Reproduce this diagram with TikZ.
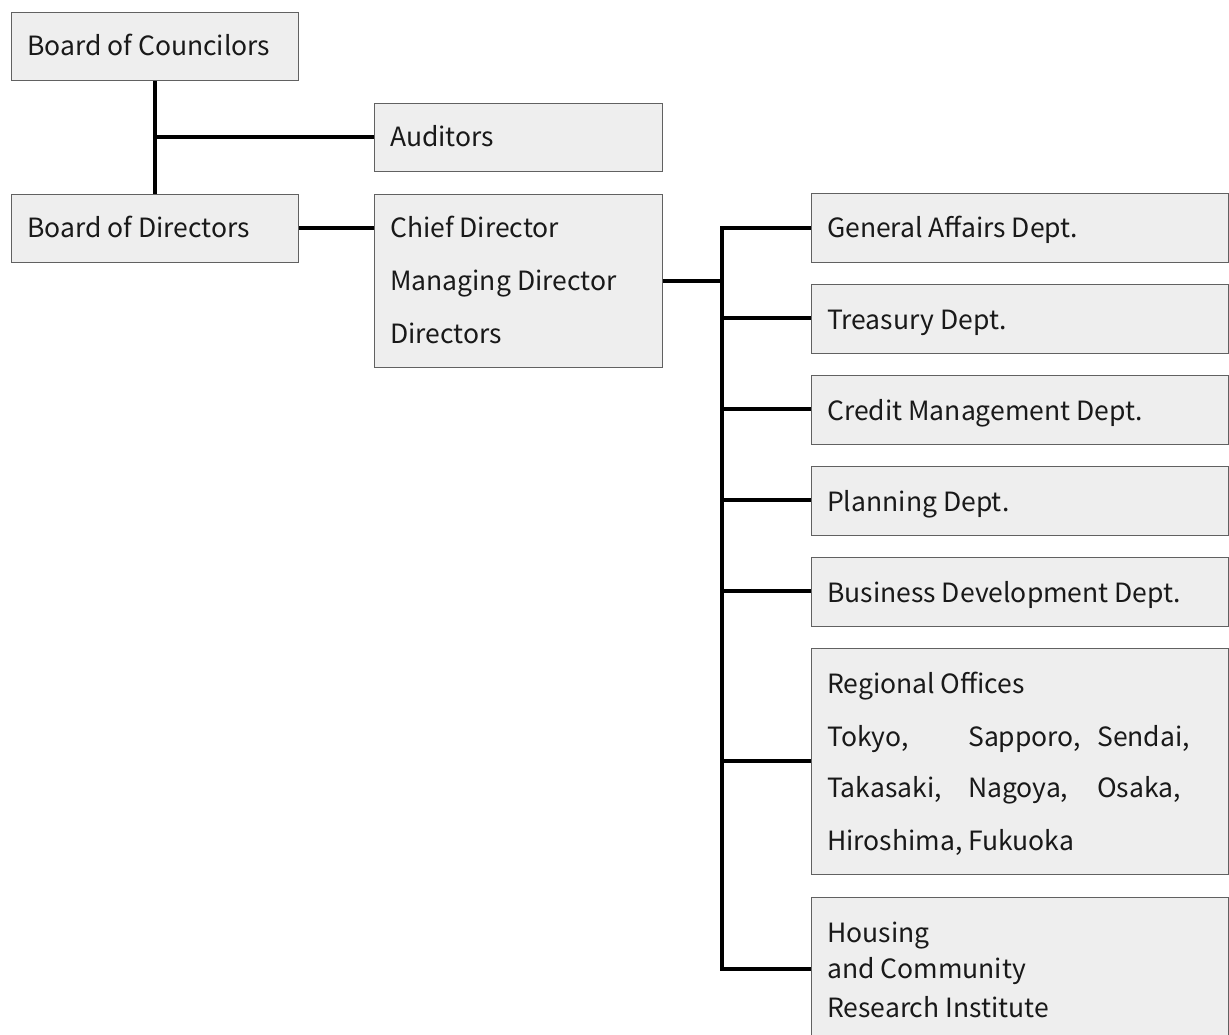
\documentclass[tikz,border=0pt]{standalone}
\usepackage{fontspec}
\setmainfont{Noto Sans CJK JP}
\tikzset{
  box/.style={draw=black!62, line width=1.1pt, fill=black!6.5, rectangle, inner sep=0pt, anchor=north west},
  lbl/.style={inner sep=0pt, anchor=base west, font=\fontsize{26.5}{30}\selectfont, text=black!90},
  conn/.style={line width=3.2pt, draw=black},
}
\begin{document}
\begin{tikzpicture}[x=1pt,y=-1pt]
\useasboundingbox (0,0) rectangle (1229,1035);
\clip (0,0) rectangle (1229,1035);
% boxes
\node[box, minimum width=287, minimum height=68] (bc) at (11,12) {};
\node[box, minimum width=287, minimum height=68] (bd) at (11,194) {};
\node[box, minimum width=288, minimum height=68] (au) at (374,103) {};
\node[box, minimum width=288, minimum height=173] (cd) at (374,194) {};
\node[box, minimum width=417, minimum height=69] (ga) at (811,193) {};
\node[box, minimum width=417, minimum height=69] (tr) at (811,284) {};
\node[box, minimum width=417, minimum height=69] (cm) at (811,375) {};
\node[box, minimum width=417, minimum height=69] (pl) at (811,466) {};
\node[box, minimum width=417, minimum height=69] (bdv) at (811,557) {};
\node[box, minimum width=417, minimum height=226] (ro) at (811,648) {};
\node[box, minimum width=417, minimum height=160] (hc) at (811,897) {};
% texts
\node[lbl] (bc-t) at (27,56) {Board of Councilors};
\node[lbl] (bd-t) at (27,238) {Board of Directors};
\node[lbl] (au-t) at (390,147) {Auditors};
\node[lbl] (cd-t1) at (390,238) {Chief Director};
\node[lbl] (cd-t2) at (390,290) {Managing Director};
\node[lbl] (cd-t3) at (390,343) {Directors};
\node[lbl] (ga-t) at (827,238) {General Affairs Dept.};
\node[lbl] (tr-t) at (827,329) {Treasury Dept.};
\node[lbl] (cm-t) at (827,420) {Credit Management Dept.};
\node[lbl] (pl-t) at (827,511) {Planning Dept.};
\node[lbl] (bdv-t) at (827,602) {Business Development Dept.};
\node[lbl] (ro-t0) at (827,693) {Regional Offices};
\node[lbl] (ro-a1) at (827,746) {Tokyo,};
\node[lbl] (ro-b1) at (968,746) {Sapporo,};
\node[lbl] (ro-c1) at (1097,746) {Sendai,};
\node[lbl] (ro-a2) at (827,797) {Takasaki,};
\node[lbl] (ro-b2) at (968,797) {Nagoya,};
\node[lbl] (ro-c2) at (1097,797) {Osaka,};
\node[lbl] (ro-a3) at (827,850) {Hiroshima,};
\node[lbl] (ro-b3) at (968,850) {Fukuoka};
\node[lbl] (hc-t1) at (827,942) {Housing};
\node[lbl] (hc-t2) at (827,978) {and Community};
\node[lbl] (hc-t3) at (827,1017) {Research Institute};
% connectors
\coordinate (j1) at (155,137);
\coordinate (bus) at (722,281);
\draw[conn] (bc.south -| j1) -- (bd.north -| j1);
\draw[conn] (j1) -- (au.west |- j1);
\draw[conn] (bd.east |- 0,228) -- (cd.west |- 0,228);
\draw[conn] (cd.east |- bus) -- (bus);
\draw[conn] (722,226.4) -- (722,970.6);
\draw[conn] (722,228) -- (ga.west |- 0,228);
\draw[conn] (722,318) -- (tr.west |- 0,318);
\draw[conn] (722,409) -- (cm.west |- 0,409);
\draw[conn] (722,500) -- (pl.west |- 0,500);
\draw[conn] (722,591) -- (bdv.west |- 0,591);
\draw[conn] (722,761) -- (ro.west |- 0,761);
\draw[conn] (722,969) -- (hc.west |- 0,969);
\end{tikzpicture}
\end{document}
